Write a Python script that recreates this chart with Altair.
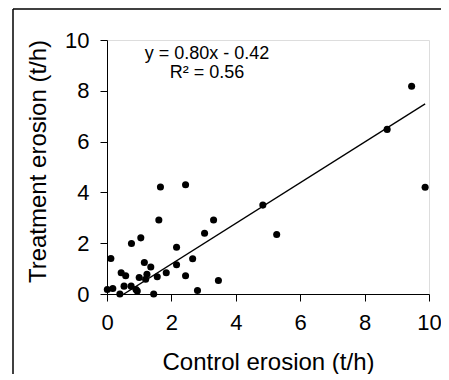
import altair as alt
import pandas as pd

control = [0.01, 0.18, 0.12, 0.40, 0.44, 0.58, 0.53, 0.75, 0.76, 0.90, 0.94, 1.00,
           1.05, 1.16, 1.20, 1.24, 1.36, 1.45, 1.56, 1.61, 1.84, 2.16, 2.16, 2.44,
           2.66, 2.81, 3.03, 3.31, 3.46, 4.84, 5.27, 1.66, 2.44, 8.70, 9.46, 9.88]
treatment = [0.18, 0.22, 1.40, 0.00, 0.84, 0.72, 0.31, 0.31, 1.99, 0.18, 0.12, 0.65,
             2.21, 1.24, 0.58, 0.78, 1.06, 0.00, 0.68, 2.91, 0.84, 1.84, 1.15, 0.72,
             1.39, 0.14, 2.39, 2.91, 0.53, 3.50, 2.34, 4.21, 4.30, 6.48, 8.18, 4.20]

slope = 0.80
intercept = -0.42
trend_x = [min(control), max(control)]
eq_lines = ["y = 0.80x - 0.42", "R² = 0.56"]

pts = pd.DataFrame({"control": control, "treatment": treatment})
trend = pd.DataFrame({"control": trend_x,
                      "treatment": [slope * v + intercept for v in trend_x]})

FONT = "Liberation Sans"
xs = alt.Scale(domain=[0, 10], nice=False)
ys = alt.Scale(domain=[0, 10], nice=False)

points = alt.Chart(pts).mark_circle(color="black", opacity=1, size=50).encode(
    x=alt.X("control:Q", scale=xs,
            axis=alt.Axis(title="Control erosion (t/h)", values=[0, 2, 4, 6, 8, 10],
                          grid=False, domainColor="black", tickColor="black",
                          tickSize=7, labelFontSize=22, labelFont=FONT, labelColor="black",
                          labelPadding=11, labelFlush=False, titleFont=FONT, titleFontSize=24,
                          titleFontWeight="normal", titleColor="black",
                          titleY=68, titleBaseline="middle")),
    y=alt.Y("treatment:Q", scale=ys,
            axis=alt.Axis(title="Treatment erosion (t/h)", values=[0, 2, 4, 6, 8, 10],
                          grid=False, domainColor="black", tickColor="black",
                          tickSize=7, labelFontSize=22, labelFont=FONT, labelColor="black",
                          labelPadding=11, labelFlush=False, titleFont=FONT, titleFontSize=24,
                          titleFontWeight="normal", titleColor="black",
                          titleX=-69, titleY=121, titleBaseline="middle",
                          titleAlign="center", titleAngle=270)),
)

line = alt.Chart(trend).mark_line(color="black", strokeWidth=1.3, clip=True).encode(
    x=alt.X("control:Q", scale=xs), y=alt.Y("treatment:Q", scale=ys))

eq1 = alt.Chart(pd.DataFrame({"t": [eq_lines[0]]})).mark_text(
    font=FONT, fontSize=18, color="black", align="center", baseline="middle").encode(
    text="t:N", x=alt.value(100), y=alt.value(14))
eq2 = alt.Chart(pd.DataFrame({"t": [eq_lines[1]]})).mark_text(
    font=FONT, fontSize=18, color="black", align="center", baseline="middle").encode(
    text="t:N", x=alt.value(100), y=alt.value(33))

border_left = alt.Chart(pd.DataFrame({"a": [0]})).mark_rule(color="black", strokeWidth=1.5).encode(
    x=alt.value(-94), y=alt.value(-31), y2=alt.value(340))
border_top = alt.Chart(pd.DataFrame({"a": [0]})).mark_rule(color="black", strokeWidth=1.5).encode(
    x=alt.value(-94), x2=alt.value(334), y=alt.value(-31))

chart = alt.layer(border_left, border_top, line, points, eq1, eq2).properties(
    width=322, height=254,
    autosize=alt.AutoSizeParams(type="none"),
    padding={"left": 99, "top": 32, "right": 12, "bottom": 80},
).configure_view(stroke=None).configure(background="white")

chart.save("out.html", embed_options={"renderer": "svg", "actions": False})
